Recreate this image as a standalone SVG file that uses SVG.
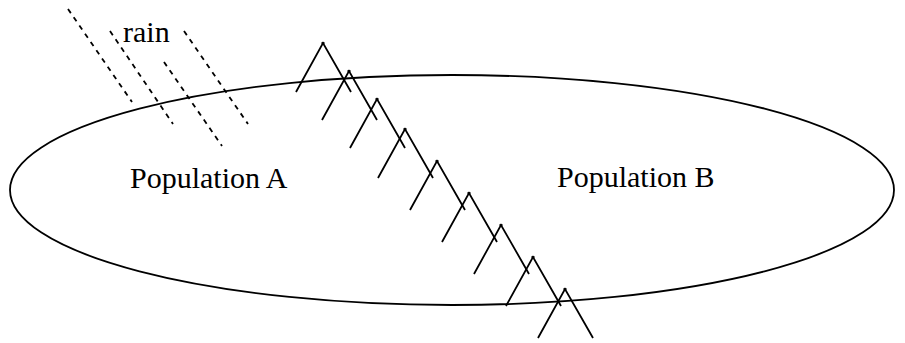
<svg xmlns="http://www.w3.org/2000/svg" width="905" height="343" viewBox="0 0 905 343">
<defs>
<g id="tri" fill="none" stroke="#000" stroke-width="1.8">
<path d="M-27,49 L0,0 L28,49"/>
<path d="M-1.5,0 H1.5"/>
</g>
</defs>
<rect width="905" height="343" fill="#fff"/>
<ellipse id="population-ellipse" cx="452" cy="190" rx="442" ry="115" fill="none" stroke="#000" stroke-width="1.8"/>
<text id="population-a" x="130" y="188" font-family="Liberation Serif" font-size="30">Population A</text>
<text id="population-b" x="557" y="187" font-family="Liberation Serif" font-size="30">Population B</text>
<g id="rain" fill="none" stroke="#000" stroke-width="1.8" stroke-dasharray="5 5">
<path d="M68,9 L132,102"/>
<path d="M110,31 L173,124"/>
<path d="M164,62 L222,146"/>
<path d="M184,31 L248,124"/>
</g>
<text id="rain-label" x="123" y="42" font-family="Liberation Serif" font-size="30">rain</text>
<g id="barrier">
<use href="#tri" x="323" y="43"/>
<use href="#tri" x="349" y="71"/>
<use href="#tri" x="377" y="99"/>
<use href="#tri" x="405" y="129"/>
<use href="#tri" x="437" y="161"/>
<use href="#tri" x="469" y="193"/>
<use href="#tri" x="501" y="225"/>
<use href="#tri" x="533" y="257"/>
<use href="#tri" x="565" y="289"/>
</g>
</svg>
